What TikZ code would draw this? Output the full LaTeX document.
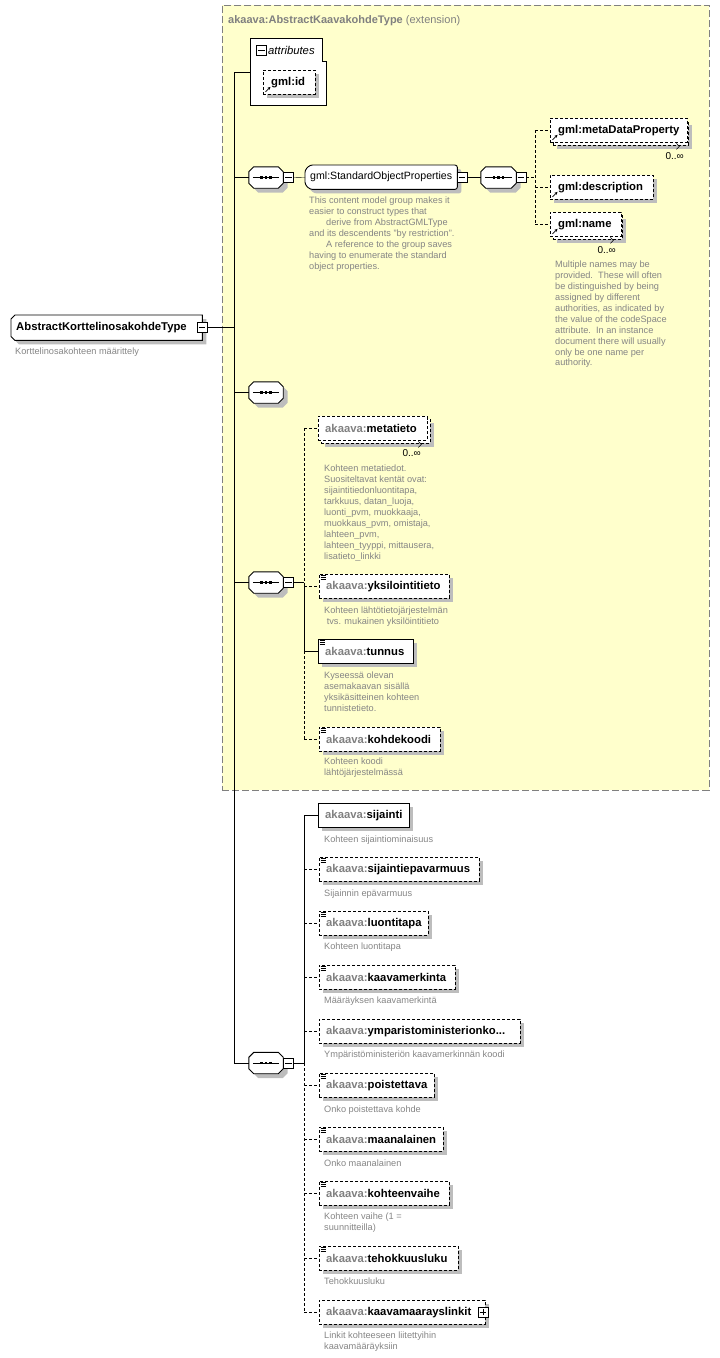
\documentclass[tikz,border=0pt]{standalone}
\usepackage{fontspec}
\setmainfont{Liberation Sans}
\usetikzlibrary{arrows.meta}
\pgfdeclarelayer{bgA}
\pgfdeclarelayer{bgB}
\pgfsetlayers{bgA,bgB,main}
\definecolor{yel}{HTML}{FFFFCC}
\definecolor{bgray}{HTML}{808080}
\definecolor{shadowgray}{HTML}{BDBDBD}
\definecolor{dgray}{HTML}{858585}
\definecolor{pgray}{HTML}{808080}
\newcommand\nf{\fontsize{11.3}{13}\selectfont\bfseries}
\newcommand\df{\fontsize{9.2}{10.9}\selectfont}
\newcommand\pfx{\textcolor{pgray}{akaava:}}
\newcommand\octpath[3]{([shift={(#2+#3,#3)}]#1.north west) -- ([shift={(-#2+#3,#3)}]#1.north east) -- ([shift={(#3,#2+#3)}]#1.north east) -- ([shift={(#3,-#2+#3)}]#1.south east) -- ([shift={(-#2+#3,#3)}]#1.south east) -- ([shift={(#2+#3,#3)}]#1.south west) -- ([shift={(#3,-#2+#3)}]#1.south west) -- ([shift={(#3,#2+#3)}]#1.north west) -- cycle}
\newcommand\lchpath[3]{([shift={(#2+#3,#3)}]#1.north west) -- ([shift={(#3,#3)}]#1.north east) -- ([shift={(#3,#3)}]#1.south east) -- ([shift={(#2+#3,#3)}]#1.south west) -- ([shift={(#3,-#2+#3)}]#1.south west) -- ([shift={(#3,#2+#3)}]#1.north west) -- cycle}
\newcommand\octshape[2]{\begin{pgfonlayer}{bgB}
 \fill[fill=shadowgray] \octpath{#1}{#2}{4.5};
 \draw[fill=white,line width=0.9pt] \octpath{#1}{#2}{0};
 \end{pgfonlayer}}
\newcommand\lchshape[3]{\begin{pgfonlayer}{bgB}
 \fill[fill=shadowgray,rounded corners=#3] \lchpath{#1}{#2}{4};
 \draw[fill=white,line width=0.9pt,rounded corners=#3] \lchpath{#1}{#2}{0};
 \end{pgfonlayer}}
\newcommand\shadrect[1]{\begin{pgfonlayer}{bgB}\fill[fill=shadowgray] ([shift={(4,4)}]#1.north west) rectangle ([shift={(4,4)}]#1.south east);\end{pgfonlayer}}
\newcommand\seqglyph[1]{\draw[line width=1pt] ([xshift=4pt]#1.west) -- ([xshift=-4pt]#1.east);
 \foreach \d in {-4.5,0,4.5}{\fill ([xshift=\d pt]#1.center) +(-1.4,-1.4) rectangle +(1.4,1.4);}}
\newcommand\pmbox[4]{\node[draw, fill=white, minimum size=10pt, inner sep=0pt, line width=0.8pt] (#1) at (#2,#3) {};
 \draw[line width=0.8pt] ([xshift=2pt]#1.west) -- ([xshift=-2pt]#1.east);#4}
\newcommand\simp[1]{\foreach \d in {1.5,3.5,5.5}{\draw[line width=0.7pt] ([shift={(1.5,\d)}]#1.north west) -- ++(5,0);}}
\newcommand\refarr[1]{\draw[line width=0.8pt,-{Stealth[length=3pt,width=3pt]}] ([shift={(2.5,-2.5)}]#1.south west) -- ++(5,-5);}
\newcommand\multimark[1]{\draw[line width=0.6pt] ([shift={(-12,-2)}]#1.south east) -- ++(3,3) -- ++(-3,3);}
\begin{document}
\begin{tikzpicture}[x=1pt,y=-1pt,line width=0.9pt,
 elemns/.style={draw, fill=white, anchor=north west, minimum height=24pt, inner xsep=7pt, inner ysep=0pt, text width=#1, align=left, font=\nf},
 elem/.style={elemns=#1},
 opt/.style={dash pattern=on 3pt off 2pt},
 desc/.style={anchor=north west, inner sep=0pt, font=\df, text=dgray, align=left},
 occ/.style={anchor=east, inner sep=0pt, font=\fontsize{10}{12}\selectfont},
 seqn/.style={minimum height=21pt, inner sep=0pt, minimum width=#1}]
\useasboundingbox (0,0) rectangle (720,1358);
\begin{pgfonlayer}{bgA}
\node[draw=bgray, fill=yel, dash pattern=on 7pt off 3pt, line width=0.9pt, anchor=north west, minimum width=487pt, minimum height=785pt, inner sep=0pt] (ext) at (222,5) {};
\end{pgfonlayer}
\node[anchor=base west, inner sep=0pt, text=pgray, font=\fontsize{11}{13}\selectfont] (title) at (228,23) {\textbf{akaava:AbstractKaavakohdeType} (extension)};

% root
\node[anchor=north west, minimum width=191pt, minimum height=25pt, inner xsep=5pt, inner ysep=0pt, text width=181pt, align=left, font=\nf] (root) at (11,315) {AbstractKorttelinosakohdeType};
\lchshape{root}{4}{0pt}
\pmbox{m0}{202}{327.5}{}
\node[desc] (rootd) at (15,347.5) {Korttelinosakohteen määrittely};

% attributes
\node[anchor=north west, minimum width=76pt, minimum height=67pt, inner sep=0pt] (attr) at (250,38) {};
\begin{pgfonlayer}{bgB}
\draw[fill=white] (attr.north west) -- ([shift={(-4,0)}]attr.north east) -- ([shift={(-4,23)}]attr.north east) -- ([shift={(0,23)}]attr.north east) -- (attr.south east) -- (attr.south west) -- cycle;
\end{pgfonlayer}
\pmbox{am}{261.5}{50.5}{}
\node[anchor=west, inner sep=0pt, font=\fontsize{11.3}{13}\selectfont\itshape] (attrl) at (268,50.5) {attributes};
\node[elem=36pt, opt, inner xsep=8pt] (gmlid) at (263,70) {gml:id};
\shadrect{gmlid}
\refarr{gmlid}

% main trunk
\coordinate (tA) at (234,72);
\coordinate (tB) at (234,1063);
\draw (tA) -- (tB);
\draw (tA) -- (attr.west |- tA);
\draw (m0.east) -- (m0.east -| tA);

% sequence 1
\node[seqn=34pt] (s1) at (266,177.5) {};
\octshape{s1}{5}
\seqglyph{s1}
\pmbox{m1}{288.5}{177.5}{}
\node[anchor=north west, minimum height=24pt, inner xsep=5pt, inner ysep=0pt, text width=142pt, align=left, font=\fontsize{10.6}{13}\selectfont] (sop) at (305,165) {gml:StandardObjectProperties};
\lchshape{sop}{5}{2.5pt}
\pmbox{msop}{462}{177.5}{}
\node[seqn=35pt] (s2) at (498.5,177.5) {};
\octshape{s2}{5}
\seqglyph{s2}
\pmbox{m2}{521}{177.5}{}
\node[desc] (sopd) at (309,197) {This content model group makes it\\easier to construct types that\\\hspace*{17pt}derive from AbstractGMLType\\and its descendents "by restriction".\\\hspace*{17pt}A reference to the group saves\\having to enumerate the standard\\object properties.};
\draw (s1.west -| tA) -- (s1.west);
\draw (m1.east) -- (sop.west);
\draw (msop.east) -- (s2.west);

\node[elem=121pt, opt] (mdpb) at (553,121) {};
\shadrect{mdpb}
\node[elemns=121pt, opt, inner xsep=8pt] (mdp) at (550,118) {gml:metaDataProperty};
\refarr{mdp}
\multimark{mdpb}
\node[occ] (mdpo) at (684,156) {0..∞};
\node[elem=87pt, opt, inner xsep=8pt] (gdesc) at (550,175) {gml:description};
\shadrect{gdesc}
\refarr{gdesc}
\node[elem=55pt, opt] (nameb) at (553,215) {};
\shadrect{nameb}
\node[elemns=55pt, opt, inner xsep=8pt] (gname) at (550,212) {gml:name};
\refarr{gname}
\multimark{nameb}
\node[occ] (nameo) at (616,250) {0..∞};
\node[desc] (named) at (555,261) {Multiple names may be\\provided.\ \ These will often\\be distinguished by being\\assigned by different\\authorities, as indicated by\\the value of the codeSpace\\attribute.\ \ In an instance\\document there will usually\\only be one name per\\authority.};
\coordinate (tr2) at (535,177.5);
\draw[opt] (m2.east) -- (tr2);
\draw[opt] (tr2 |- mdp.west) -- (tr2 |- gname.west);
\draw[opt] (tr2 |- mdp.west) -- (mdp.west);
\draw[opt] (tr2 |- gdesc.west) -- (gdesc.west);
\draw[opt] (tr2 |- gname.west) -- (gname.west);

% sequence 3
\node[seqn=34pt] (s3) at (266,392.5) {};
\octshape{s3}{5}
\seqglyph{s3}
\draw (s3.west -| tA) -- (s3.west);

% sequence 4
\node[seqn=34pt] (s4) at (266,582.5) {};
\octshape{s4}{5}
\seqglyph{s4}
\pmbox{m4}{288.5}{582.5}{}
\draw (s4.west -| tA) -- (s4.west);
\coordinate (tr4) at (304,582.5);
\node[elem=95pt, opt] (metab) at (321,419) {};
\shadrect{metab}
\node[elemns=95pt, opt] (meta) at (318,416) {\pfx metatieto};
\multimark{metab}
\node[occ] (metao) at (421,453) {0..∞};
\node[desc] (metad) at (324,465) {Kohteen metatiedot.\\Suositeltavat kentät ovat:\\sijaintitiedonluontitapa,\\tarkkuus, datan\_luoja,\\luonti\_pvm, muokkaaja,\\muokkaus\_pvm, omistaja,\\lahteen\_pvm,\\lahteen\_tyyppi, mittausera,\\lisatieto\_linkki};
\node[elem=116pt, opt] (yks) at (319,574) {\pfx yksilointitieto};
\shadrect{yks}
\simp{yks}
\node[desc] (yksd) at (324,606.5) {Kohteen lähtötietojärjestelmän\\\ tvs. mukainen yksilöintitieto};
\node[elem=81pt] (tunnus) at (318,639) {\pfx tunnus};
\shadrect{tunnus}
\simp{tunnus}
\node[desc] (tunnusd) at (324,671.5) {Kyseessä olevan\\asemakaavan sisällä\\yksikäsitteinen kohteen\\tunnistetieto.};
\node[elem=107pt, opt] (kohde) at (319,727) {\pfx kohdekoodi};
\shadrect{kohde}
\simp{kohde}
\node[desc] (kohded) at (324,757.5) {Kohteen koodi\\lähtöjärjestelmässä};
\draw (m4.east) -- (tr4);
\draw[opt] (tr4 |- meta.west) -- (tr4);
\draw (tr4) -- (tr4 |- tunnus.west);
\draw[opt] (tr4 |- tunnus.west) -- (tr4 |- kohde.west);
\draw[opt] (tr4 |- meta.west) -- (meta.west);
\draw[opt] (tr4 |- yks.west) -- (yks.west);
\draw (tr4 |- tunnus.west) -- (tunnus.west);
\draw[opt] (tr4 |- kohde.west) -- (kohde.west);

% sequence 5
\node[seqn=34pt] (s5) at (266,1063) {};
\octshape{s5}{5}
\seqglyph{s5}
\pmbox{m5}{288.5}{1063}{}
\draw (s5.west -| tA) -- (s5.west);
\coordinate (tr5) at (304,1063);
\node[elem=77pt] (sij) at (318,803) {\pfx sijainti};
\node[desc] (sijd) at (324,835.5) {Kohteen sijaintiominaisuus};
\node[elem=146pt, opt] (sepav) at (319,857) {\pfx sijaintiepavarmuus};
\simp{sepav}
\node[desc] (sepavd) at (324,889.5) {Sijainnin epävarmuus};
\node[elem=95pt, opt] (luonti) at (319,911) {\pfx luontitapa};
\simp{luonti}
\node[desc] (luontid) at (324,942.5) {Kohteen luontitapa};
\node[elem=122pt, opt] (kmerk) at (319,965) {\pfx kaavamerkinta};
\simp{kmerk}
\node[desc] (kmerkd) at (324,997) {Määräyksen kaavamerkintä};
\node[elem=187pt, opt] (ymp) at (319,1019) {\pfx ymparistoministerionko...};
\node[desc] (ympd) at (324,1051) {Ympäristöministeriön kaavamerkinnän koodi};
\node[elem=101pt, opt] (poist) at (319,1073) {\pfx poistettava};
\simp{poist}
\node[desc] (poistd) at (324,1105.5) {Onko poistettava kohde};
\node[elem=110pt, opt] (maan) at (319,1127) {\pfx maanalainen};
\simp{maan}
\node[desc] (maand) at (324,1159.5) {Onko maanalainen};
\node[elem=116pt, opt] (kvaihe) at (319,1181) {\pfx kohteenvaihe};
\simp{kvaihe}
\node[desc] (kvaihed) at (324,1213) {Kohteen vaihe (1 =\\suunnitteilla)};
\node[elem=125pt, opt] (tehok) at (319,1246) {\pfx tehokkuusluku};
\simp{tehok}
\node[desc] (tehokd) at (324,1277.5) {Tehokkuusluku};
\node[elem=152pt, opt] (linkit) at (319,1300) {\pfx kaavamaarayslinkit};
\pmbox{pl}{483}{1312}{\draw[line width=0.8pt] ([yshift=2pt]pl.south) -- ([yshift=-2pt]pl.north);}
\node[desc] (linkitd) at (324,1332) {Linkit kohteeseen liitettyihin\\kaavamääräyksiin};
\foreach \n in {sij,sepav,luonti,kmerk,ymp,poist,maan,kvaihe,tehok,linkit}{\shadrect{\n}}
\draw (m5.east) -- (tr5);
\draw (tr5 |- sij.west) -- (tr5);
\draw[opt] (tr5) -- (tr5 |- linkit.west);
\draw (tr5 |- sij.west) -- (sij.west);
\foreach \n in {sepav,luonti,kmerk,ymp,poist,maan,kvaihe,tehok,linkit}{\draw[opt] (tr5 |- \n.west) -- (\n.west);}
\end{tikzpicture}
\end{document}
